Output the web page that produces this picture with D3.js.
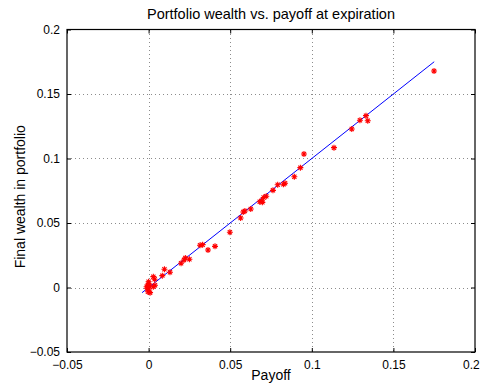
<!DOCTYPE html>
<html>
<head>
<meta charset="utf-8">
<script src="https://cdn.jsdelivr.net/npm/d3@7"></script>
<style>
  html, body { margin: 0; padding: 0; background: #fff; }
  svg { display: block; font-family: "Liberation Sans", Arial, Helvetica, sans-serif; }
</style>
</head>
<body>
<svg id="chart" width="481" height="386"></svg>
<script>
// Simulated portfolio outcomes: option payoff vs. final replicating-portfolio wealth
const payoff = [
  0.1749, 0.1332, 0.1343, 0.1295, 0.1245, 0.1136, 0.0952, 0.0930, 0.0893, 0.0836,
  0.0826, 0.0791, 0.0762, 0.0721, 0.0705, 0.0693, 0.0681, 0.0697, 0.0626, 0.0590,
  0.0580, 0.0564, 0.0498, 0.0407, 0.0364, 0.0331, 0.0315, 0.0250, 0.0225, 0.0217,
  0.0199, 0.0131, 0.0097, 0.0084, 0.0029, 0.0037, 0.0039, 0.0029, -0.0002, 0.0000,
  -0.0008, -0.0004, 0.0009, 0.0002, -0.0012, 0.0000, 0.0005
];
const wealth = [
  0.1678, 0.1332, 0.1293, 0.1296, 0.1229, 0.1084, 0.1035, 0.0929, 0.0859, 0.0808,
  0.0800, 0.0797, 0.0753, 0.0707, 0.0698, 0.0671, 0.0665, 0.0660, 0.0609, 0.0593,
  0.0585, 0.0539, 0.0428, 0.0319, 0.0291, 0.0332, 0.0327, 0.0219, 0.0229, 0.0213,
  0.0188, 0.0118, 0.0141, 0.0092, 0.0084, 0.0064, 0.0017, 0.0006, 0.0020, 0.0045,
  -0.0006, -0.0033, -0.0040, -0.0012, 0.0006, 0.0030, 0.0010
];
// Reference line wealth = payoff over the range of simulated payoffs
const refLine = [-0.004, 0.175];

const xTicks = [-0.05, 0, 0.05, 0.1, 0.15, 0.2];
const yTicks = [-0.05, 0, 0.05, 0.1, 0.15, 0.2];
const xDomain = [-0.05, 0.2];
const yDomain = [-0.05, 0.2];

const titleText = "Portfolio wealth vs. payoff at expiration";
const xLabel = "Payoff";
const yLabel = "Final wealth in portfolio";

const svg = d3.select("#chart");
const W = 481;
const L = 67, R = 475, T = 29.5, B = 352;

const x = d3.scaleLinear().domain(xDomain).range([L, R]);
const y = d3.scaleLinear().domain(yDomain).range([B, T]);

const fmt = v => {
  const s = String(+v.toFixed(2));
  return s.replace("-", "\u2212");
};

// dotted grid
const grid = svg.append("g").attr("stroke", "#8c8c8c").attr("stroke-width", 1)
  .attr("stroke-dasharray", "1,3").attr("shape-rendering", "crispEdges");
xTicks.slice(1, -1).forEach(t => {
  grid.append("line").attr("x1", Math.round(x(t)) + 0.5).attr("x2", Math.round(x(t)) + 0.5)
    .attr("y1", T).attr("y2", B);
});
yTicks.slice(1, -1).forEach(t => {
  grid.append("line").attr("y1", Math.round(y(t)) + 0.5).attr("y2", Math.round(y(t)) + 0.5)
    .attr("x1", L).attr("x2", R);
});

// axes with inward ticks on all four sides
const tickLen = 4;
const bottomAxis = d3.axisBottom(x).tickValues(xTicks).tickSize(-tickLen).tickPadding(8).tickFormat(fmt);
const topAxis = d3.axisTop(x).tickValues(xTicks).tickSize(-tickLen).tickFormat("");
const leftAxis = d3.axisLeft(y).tickValues(yTicks).tickSize(-tickLen).tickPadding(7).tickFormat(fmt);
const rightAxis = d3.axisRight(y).tickValues(yTicks).tickSize(-tickLen).tickFormat("");

function styleAxis(g) {
  g.select(".domain").remove();
  g.selectAll("line").attr("stroke", "#000");
  g.selectAll("text").attr("fill", "#000").style("font-size", "12px")
    .style("font-family", "\"Liberation Sans\", Arial, Helvetica, sans-serif");
}
const gx = svg.append("g").attr("transform", `translate(0,${B})`).call(bottomAxis).call(styleAxis);
svg.append("g").attr("transform", `translate(0,${T})`).call(topAxis).call(styleAxis);
svg.append("g").attr("transform", `translate(${L},0)`).call(leftAxis).call(styleAxis);
svg.append("g").attr("transform", `translate(${R},0)`).call(rightAxis).call(styleAxis);

// keep the last x tick label inside the drawing
gx.selectAll(".tick text").each(function () {
  const bb = this.getBBox();
  const tx = +d3.select(this.parentNode).attr("transform").match(/translate\(([-\d.]+)/)[1];
  const over = tx + bb.x + bb.width - (W - 1);
  if (over > 0) d3.select(this).attr("dx", -over);
});

// box
svg.append("rect").attr("x", L).attr("y", T).attr("width", R - L).attr("height", B - T)
  .attr("fill", "none").attr("stroke", "#000").attr("stroke-width", 1.2);

// reference line
svg.append("line")
  .attr("x1", x(refLine[0])).attr("y1", y(refLine[0]))
  .attr("x2", x(refLine[1])).attr("y2", y(refLine[1]))
  .attr("stroke", "#0000ff").attr("stroke-width", 1);

// asterisk markers
const pts = payoff.map((p, i) => [p, wealth[i]]);
const r = 3;
const star = `M${-r},0L${r},0M0,${-r}L0,${r}M${-r*0.7},${-r*0.7}L${r*0.7},${r*0.7}M${-r*0.7},${r*0.7}L${r*0.7},${-r*0.7}`;
svg.append("g").selectAll("path").data(pts).join("path")
  .attr("transform", d => `translate(${x(d[0])},${y(d[1])})`)
  .attr("d", star)
  .attr("fill", "none").attr("stroke", "#ff0000").attr("stroke-width", 1.1);

// title and labels
svg.append("text").attr("x", (L + R) / 2).attr("y", 19).attr("text-anchor", "middle")
  .style("font-size", "14.5px").attr("fill", "#000").text(titleText);
svg.append("text").attr("x", (L + R) / 2).attr("y", 380).attr("text-anchor", "middle")
  .style("font-size", "14px").attr("fill", "#000").text(xLabel);
svg.append("text").attr("transform", `translate(25,${(T + B) / 2 + 6}) rotate(-90)`)
  .attr("text-anchor", "middle").style("font-size", "14px").attr("fill", "#000").text(yLabel);
</script>
</body>
</html>
